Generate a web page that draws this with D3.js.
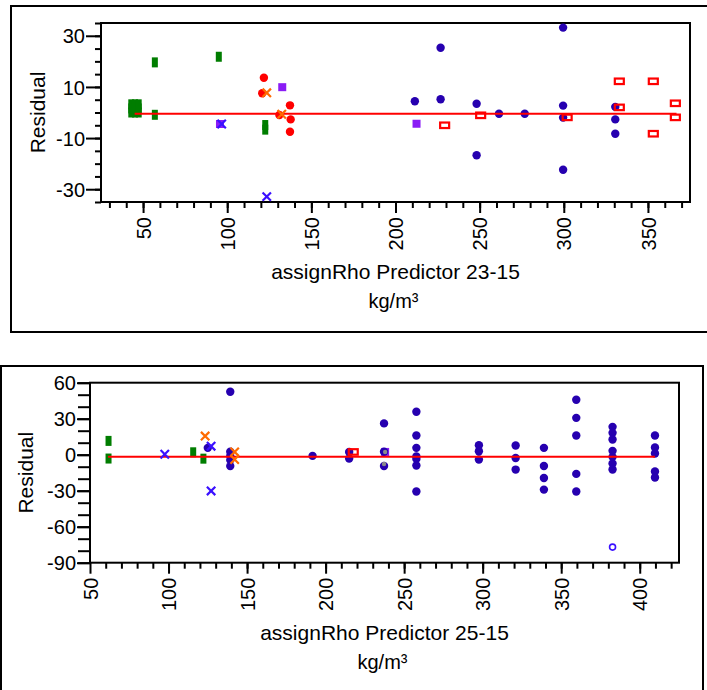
<!DOCTYPE html>
<html><head><meta charset="utf-8">
<script src="https://cdn.jsdelivr.net/npm/d3@7"></script>
<style>
body{margin:0;background:#fff;}
svg{display:block;font-family:"Liberation Sans",Arial,sans-serif;}
</style></head>
<body><svg id="c" width="707" height="690"></svg>
<script>
// ---------- DATA (top panel: assignRho Predictor 23-15) ----------
const topGreen   = [[43,0],[43,1.6],[43,3.2],[45.2,0],[45.2,1.6],[45.2,3.2],[47.4,0],[47.4,1.6],[47.4,3.2],
                    [57,19.6],[57,-0.9],[95,21.8],[122.6,-4.9],[122.6,-6.7]];
const topPurple  = [[95.7,-4.5],[132.7,9.9],[212.5,-4.4]];
const topRedDot  = [[121.8,13.6],[120.8,7.5],[137.3,2.8],[137.7,-2.7],[137.3,-7.5],[131,-1]];
const topBlue    = [[211.5,4.4],[226.8,25.3],[226.8,5.2],[248.2,3.4],[248.2,-16.7],[261.5,-0.5],[276.8,-0.5],
                    [299.6,33.2],[299.6,2.7],[299.6,-2.0],[299.6,-22.4],[330.6,2.2],[330.6,-2.7],[330.6,-8.3]];
const topRedBox  = [[229.2,-5.0],[250.6,-1.1],[302,-1.9],[333,12.2],[353.2,12.2],[333,2.0],[353.2,-8.3],[366.3,3.6],[366.3,-1.9]];
const topOrangeX = [[123.5,7.7],[132.4,-0.7]];
const topBlueX   = [[96.7,-4.5],[123.5,-32.9]];
const topFit     = [[45,-0.5],[367,-0.5]];
const topYTicks  = [30,10,-10,-30];
const topXTicks  = [50,100,150,200,250,300,350];

// ---------- DATA (bottom panel: assignRho Predictor 25-15) ----------
const botGreen   = [[61.8,11.5],[61.8,-3.2],[115.7,2],[122.2,-3.3]];
const botBlue    = [[125,5.7],[139.3,52.5],[139.3,2.5],[139.3,-1],[139.3,-4.5],[139.3,-9.5],[191.7,-1.0],
                    [215,2.3],[215,-3.2],[237.2,26.1],[237.2,2.5],[237.2,-9.4],
                    [257.8,35.8],[257.8,16],[257.8,5.7],[257.8,-1.5],[257.8,-3.5],[257.8,-9],[257.8,-30.7],
                    [297.6,7.9],[297.6,2.9],[297.6,-4],[321,7.7],[321,-2.7],[321,-12.4],
                    [339,5.7],[339,-9.4],[339,-19.4],[339,-29.1],
                    [359.6,45.8],[359.6,30.7],[359.6,16],[359.6,-16],[359.6,-30.7],
                    [382.7,23.2],[382.7,18.2],[382.7,12.7],[382.7,3.2],[382.7,-1.8],[382.7,-7.4],[382.7,-12.4],
                    [409.7,16],[409.7,6],[409.7,1],[409.7,-14],[409.7,-19]];
const botPurple  = [[237.9,2.3]];
const botGray    = [[237.9,2.3],[237.2,-7.7]];
const botRedBox  = [[217.6,2.3]];
const botOrangeX = [[123.3,15.5],[142.1,2.3],[142.1,-4]];
const botBlueX   = [[97.6,0.4],[127.1,7.1],[127.1,-30.2]];
const botOpen    = [[382.7,-77]];
const botFit     = [[61.5,-1.8],[409.7,-1.8]];
const botYTicks  = [60,30,0,-30,-60,-90];
const botXTicks  = [50,100,150,200,250,300,350,400];

const C = {green:"#007d00", purple:"#8a1cf5", red:"#ff0000", blue:"#2600b0", bluex:"#3a10ff", orange:"#ff6a00", gray:"#8a8a8a"};
const svg = d3.select("#c");
const fmt = d => String(d);

function panel(o){
  const g = svg.append("g");
  g.append("rect").attr("x",o.box[0]).attr("y",o.box[1]).attr("width",o.box[2]).attr("height",o.box[3])
    .attr("fill","none").attr("stroke","#000").attr("stroke-width",2);
  const x = d3.scaleLinear().domain(o.xd).range([o.L,o.R]);
  const y = d3.scaleLinear().domain(o.yd).range([o.B,o.T]);
  const xMinor = d3.range(o.xMinor[0], o.xMinor[1]+0.1, 10);
  const yMinor = d3.range(o.yMinor[0], o.yMinor[1]+0.1, o.yMinor[2]);
  g.append("g").attr("transform",`translate(0,${o.B})`)
    .call(d3.axisBottom(x).tickValues(xMinor).tickSize(6).tickFormat("").tickSizeOuter(0))
    .call(s=>s.select(".domain").remove()).selectAll("line").attr("stroke-width",2);
  g.append("g").attr("transform",`translate(${o.L},0)`)
    .call(d3.axisLeft(y).tickValues(yMinor).tickSize(o.yMinorLen).tickFormat("").tickSizeOuter(0))
    .call(s=>s.select(".domain").remove()).selectAll("line").attr("stroke-width",2);
  const xa = g.append("g").attr("transform",`translate(0,${o.B})`)
    .call(d3.axisBottom(x).tickValues(o.xTicks).tickFormat(fmt).tickSize(11).tickSizeOuter(0).tickPadding(4));
  xa.select(".domain").remove();
  xa.selectAll("line").attr("stroke-width",2);
  xa.selectAll("text").attr("transform","rotate(-90)").attr("x",-15).attr("y",0).attr("dy","0.36em")
    .style("text-anchor","end").style("font-size","20px").attr("fill","#000");
  const ya = g.append("g").attr("transform",`translate(${o.L},0)`)
    .call(d3.axisLeft(y).tickValues(o.yTicks).tickFormat(fmt).tickSize(o.yMajorLen).tickSizeOuter(0).tickPadding(1));
  ya.select(".domain").remove();
  ya.selectAll("line").attr("stroke-width",2);
  ya.selectAll("text").style("font-size","20px").attr("fill","#000").attr("dy","0.36em");
  g.append("rect").attr("x",o.L).attr("y",o.T).attr("width",o.R-o.L).attr("height",o.B-o.T)
    .attr("fill","none").attr("stroke","#000").attr("stroke-width",2);

  const P = g.append("g");
  const rects = (data,w,h,fill,stroke,sw)=>P.selectAll(null).data(data).enter().append("rect")
    .attr("x",d=>x(d[0])-w/2).attr("y",d=>y(d[1])-h/2).attr("width",w).attr("height",h)
    .attr("fill",fill).attr("stroke",stroke||"none").attr("stroke-width",sw||0);
  const dots = (data,r,fill,stroke,sw)=>P.selectAll(null).data(data).enter().append("circle")
    .attr("cx",d=>x(d[0])).attr("cy",d=>y(d[1])).attr("r",r)
    .attr("fill",fill).attr("stroke",stroke||"none").attr("stroke-width",sw||0);
  const crosses = (data,s,col)=>P.selectAll(null).data(data).enter().append("path")
    .attr("d",d=>{const cx=x(d[0]),cy=y(d[1]);return `M${cx-s},${cy-s}L${cx+s},${cy+s}M${cx-s},${cy+s}L${cx+s},${cy-s}`;})
    .attr("stroke",col).attr("stroke-width",2.2).attr("fill","none");

  rects(o.green,6,10,C.green);
  rects(o.purple,8,8,C.purple);
  dots(o.red||[],4.2,C.red);
  dots(o.blue,4.2,C.blue);
  dots(o.gray||[],2.2,C.gray);
  P.append("path").datum(o.fit).attr("d",d3.line().x(d=>x(d[0])).y(d=>y(d[1])))
    .attr("stroke",C.red).attr("stroke-width",2).attr("fill","none");
  rects(o.redBox,9,5.5,"none",C.red,2.2);
  dots(o.open||[],3,"none",C.bluex,1.6);
  crosses(o.orange,4.2,C.orange);
  crosses(o.bluex,4.2,C.bluex);

  g.append("text").attr("transform",`translate(${o.ylabX},${(o.T+o.B)/2}) rotate(-90)`)
    .attr("text-anchor","middle").style("font-size","21px").text("Residual");
  g.append("text").attr("x",(o.L+o.R)/2).attr("y",o.titleY).attr("text-anchor","middle")
    .style("font-size","21px").text(o.title);
  g.append("text").attr("x",(o.L+o.R)/2-2).attr("y",o.titleY+29).attr("text-anchor","middle")
    .style("font-size","20px").text("kg/m³");
}

panel({box:[11,6,710,326], L:101,R:690,T:23,B:202, xd:[25,375], yd:[-35,35],
  xMinor:[30,370], yMinor:[-35,35,5], yMinorLen:6, yMajorLen:15,
  xTicks:topXTicks, yTicks:topYTicks,
  green:topGreen, purple:topPurple, red:topRedDot, blue:topBlue, redBox:topRedBox,
  orange:topOrangeX, bluex:topBlueX, fit:topFit,
  ylabX:45, title:"assignRho Predictor 23-15", titleY:279});

panel({box:[1,366,702,340], L:90,R:679,T:382.7,B:562.7, xd:[50,425], yd:[-90,60],
  xMinor:[60,420], yMinor:[-90,60,10], yMinorLen:12, yMajorLen:13,
  xTicks:botXTicks, yTicks:botYTicks,
  green:botGreen, purple:botPurple, blue:botBlue, gray:botGray, redBox:botRedBox,
  orange:botOrangeX, bluex:botBlueX, open:botOpen, fit:botFit,
  ylabX:33, title:"assignRho Predictor 25-15", titleY:640});
</script></body></html>
